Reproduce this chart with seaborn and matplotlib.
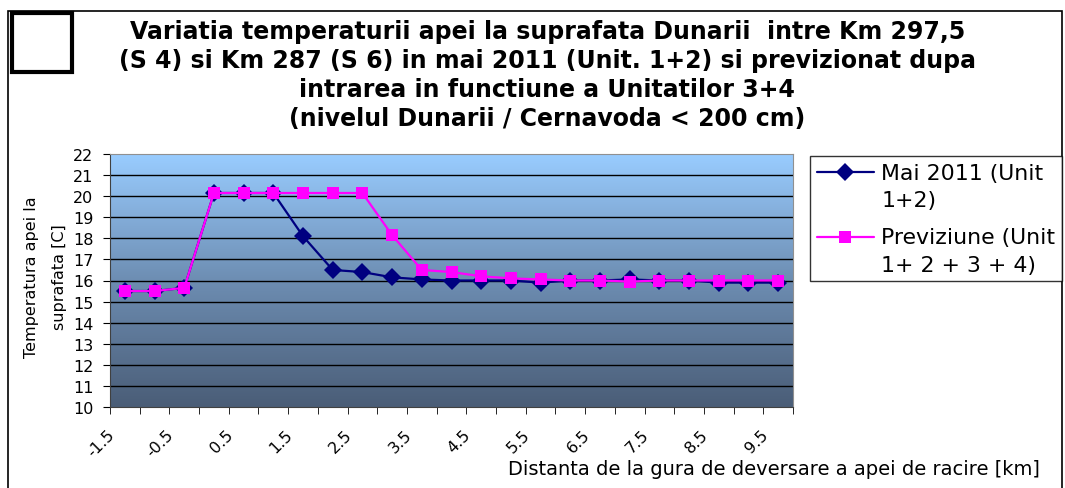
import numpy as np
import pandas as pd
import matplotlib.pyplot as plt
import seaborn as sns
from matplotlib.colors import LinearSegmentedColormap
from matplotlib.patches import Rectangle
from matplotlib.lines import Line2D
from matplotlib.transforms import ScaledTranslation

# data
distances = [-1.5, -1, -0.5, 0, 0.5, 1, 1.5, 2, 2.5, 3, 3.5, 4, 4.5, 5, 5.5, 6,
             6.5, 7, 7.5, 8, 8.5, 9, 9.5]
mai_2011 = [15.5, 15.5, 15.65, 20.15, 20.15, 20.15, 18.1, 16.5, 16.4, 16.15, 16.05,
            16.0, 16.0, 16.0, 15.9, 16.0, 16.0, 16.05, 16.0, 16.0, 15.9, 15.9, 15.9]
previziune = [15.5, 15.5, 15.65, 20.15, 20.15, 20.15, 20.15, 20.15, 20.15, 18.15, 16.5,
              16.4, 16.2, 16.1, 16.05, 16.0, 16.0, 15.95, 16.0, 16.0, 16.0, 16.0, 16.0]
tick_labels = ["-1.5", "-0.5", "0.5", "1.5", "2.5", "3.5", "4.5", "5.5", "6.5",
               "7.5", "8.5", "9.5"]
series_names = ["Mai 2011 (Unit\n1+2)", "Previziune (Unit\n1+ 2 + 3 + 4)"]

df = pd.DataFrame({
    "idx": list(range(len(distances))) * 2,
    "temp": mai_2011 + previziune,
    "serie": [series_names[0]] * len(distances) + [series_names[1]] * len(distances),
})

sns.set_style("white")
plt.rcParams["font.family"] = ["DejaVu Sans"]
plt.rcParams.update({"text.color": "black", "axes.labelcolor": "black",
                     "xtick.color": "black", "ytick.color": "black"})

fig = plt.figure(figsize=(10.65, 4.89), dpi=100)
ax = fig.add_axes([110 / 1065, 81 / 489, 683 / 1065, 253 / 489])

# gradient background
cmap = LinearSegmentedColormap.from_list("bg", ["#4A5D77", "#6D8DB2", "#99CCFF"])
grad = np.linspace(0, 1, 256).reshape(-1, 1)
ax.imshow(grad, cmap=cmap, origin="lower", aspect="auto",
          extent=[-0.5, len(distances) - 0.5, 10, 22], zorder=0)

for y in range(11, 22):
    ax.axhline(y, color="black", lw=1, zorder=1)

sns.lineplot(data=df, x="idx", y="temp", hue="serie", style="serie",
             palette=["#000080", "#FF00FF"], markers=["D", "s"], dashes=False,
             markersize=9, markeredgewidth=0, linewidth=1.6, ax=ax, zorder=3)

ax.set_xlim(-0.5, len(distances) - 0.5)
ax.set_ylim(10, 22)
ax.set_yticks(range(10, 23))
ax.tick_params(axis="y", labelsize=11.5, length=5, direction="out", left=True, pad=7)
ax.set_xticks(np.arange(-0.5, len(distances), 1), minor=True)
ax.set_xticks(range(0, len(distances), 2))
ax.set_xticklabels(tick_labels, rotation=45, ha="right", rotation_mode="anchor",
                   fontsize=11.5)
ax.tick_params(axis="x", which="major", length=0, pad=10)
ax.tick_params(axis="x", which="minor", length=5, direction="out", bottom=True)
shift = ScaledTranslation(-0.18, -0.06, fig.dpi_scale_trans)
for lab in ax.get_xticklabels():
    lab.set_transform(lab.get_transform() + shift)
for s in ["top", "right"]:
    ax.spines[s].set_color("#909090")
for s in ["left", "bottom"]:
    ax.spines[s].set_color("#404040")
ax.set_xlabel("")
ax.set_ylabel("Temperatura apei la\nsuprafata [C]", fontsize=11.5, linespacing=2.1)
ax.yaxis.set_label_coords(-0.063, 0.516)

ax.get_legend().remove()
handles, labels = ax.get_legend_handles_labels()
leg = fig.legend(handles, labels, loc="upper left",
                 bbox_to_anchor=(810 / 1065, 1 - 157 / 489), fontsize=15.8,
                 frameon=True, fancybox=False, edgecolor="black", borderpad=0.3,
                 handlelength=2.6, handletextpad=0.35, labelspacing=0.8,
                 borderaxespad=0)
leg.get_frame().set_linewidth(1)
for t in leg.get_texts():
    t.set_linespacing(1.45)
# put the legend keys level with the first line of each label
up = ScaledTranslation(0, 0.145, fig.dpi_scale_trans)
for ln in leg.findobj(match=Line2D):
    ln.set_transform(ln.get_transform() + up)

fig.text(0.514, 1 - 20 / 489,
         "Variatia temperaturii apei la suprafata Dunarii  intre Km 297,5\n"
         "(S 4) si Km 287 (S 6) in mai 2011 (Unit. 1+2) si previzionat dupa\n"
         "intrarea in functiune a Unitatilor 3+4\n"
         "(nivelul Dunarii / Cernavoda < 200 cm)",
         ha="center", va="top", fontsize=17, fontweight="bold", linespacing=1.26)

fig.text(1040 / 1065, 1 - 470 / 489,
         "Distanta de la gura de deversare a apei de racire [km]",
         ha="right", va="center", fontsize=14)

# frames
fig.patches.append(Rectangle((8 / 1065, -0.05), 1054 / 1065, 1.05 - 12 / 489,
                             transform=fig.transFigure, fill=False,
                             edgecolor="black", lw=1.2))
fig.patches.append(Rectangle((12 / 1065, 1 - 73 / 489), 60 / 1065, 59 / 489,
                             transform=fig.transFigure, fill=False,
                             edgecolor="black", lw=3))

fig.savefig("out.png", dpi=100)
